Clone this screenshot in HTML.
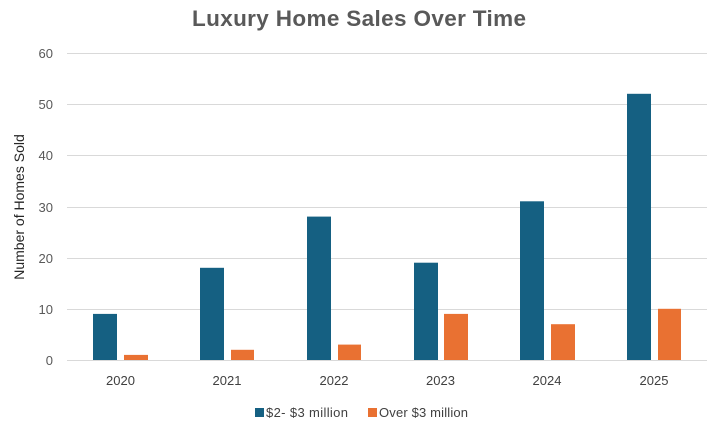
<!DOCTYPE html>
<html>
<head>
<meta charset="utf-8">
<style>
  html, body { margin:0; padding:0; background:#fff; }
  svg { display:block; }
  text { font-family: "Liberation Sans", Arial, sans-serif; }
</style>
</head>
<body>
<svg width="723" height="434" viewBox="0 0 723 434" xmlns="http://www.w3.org/2000/svg">
  <rect width="723" height="434" fill="#fff"/>
  <text x="192" y="26" font-size="22.5" font-weight="bold" fill="#595959" textLength="334" lengthAdjust="spacing">Luxury Home Sales Over Time</text>

  <g stroke="#d9d9d9" stroke-width="1">
    <line x1="67" x2="707" y1="53.5" y2="53.5"/>
    <line x1="67" x2="707" y1="104.5" y2="104.5"/>
    <line x1="67" x2="707" y1="155.5" y2="155.5"/>
    <line x1="67" x2="707" y1="207.5" y2="207.5"/>
    <line x1="67" x2="707" y1="258.5" y2="258.5"/>
    <line x1="67" x2="707" y1="309.5" y2="309.5"/>
    <line x1="67" x2="707" y1="360.5" y2="360.5"/>
  </g>

  <g font-size="13" fill="#595959" text-anchor="end">
    <text x="53" y="58">60</text>
    <text x="53" y="109">50</text>
    <text x="53" y="160">40</text>
    <text x="53" y="212">30</text>
    <text x="53" y="263">20</text>
    <text x="53" y="314">10</text>
    <text x="53" y="365">0</text>
  </g>

  <text x="24" y="207" font-size="14" fill="#262626" text-anchor="middle" transform="rotate(-90 24 207)">Number of Homes Sold</text>

  <g fill="#156082">
    <rect x="93" y="313.9" width="24" height="46.1"/>
    <rect x="200" y="267.8" width="24" height="92.2"/>
    <rect x="307" y="216.6" width="24" height="143.4"/>
    <rect x="414" y="262.7" width="24" height="97.3"/>
    <rect x="520" y="201.3" width="24" height="158.7"/>
    <rect x="627" y="93.8" width="24" height="266.2"/>
  </g>
  <g fill="#E97132">
    <rect x="124" y="354.9" width="24" height="5.1"/>
    <rect x="231" y="349.8" width="23" height="10.2"/>
    <rect x="338" y="344.6" width="23" height="15.4"/>
    <rect x="444" y="313.9" width="24" height="46.1"/>
    <rect x="551" y="324.2" width="24" height="35.8"/>
    <rect x="658" y="308.8" width="23" height="51.2"/>
  </g>

  <g font-size="13" fill="#404040" text-anchor="middle">
    <text x="120.5" y="385">2020</text>
    <text x="227" y="385">2021</text>
    <text x="334" y="385">2022</text>
    <text x="440.5" y="385">2023</text>
    <text x="547" y="385">2024</text>
    <text x="654" y="385">2025</text>
  </g>

  <rect x="255" y="408" width="9" height="9" fill="#156082"/>
  <text x="266" y="417" font-size="13" fill="#404040" textLength="82" lengthAdjust="spacing">$2- $3 million</text>
  <rect x="368" y="408" width="9" height="9" fill="#E97132"/>
  <text x="379" y="417" font-size="13" fill="#404040" textLength="89" lengthAdjust="spacing">Over $3 million</text>
</svg>
</body>
</html>
